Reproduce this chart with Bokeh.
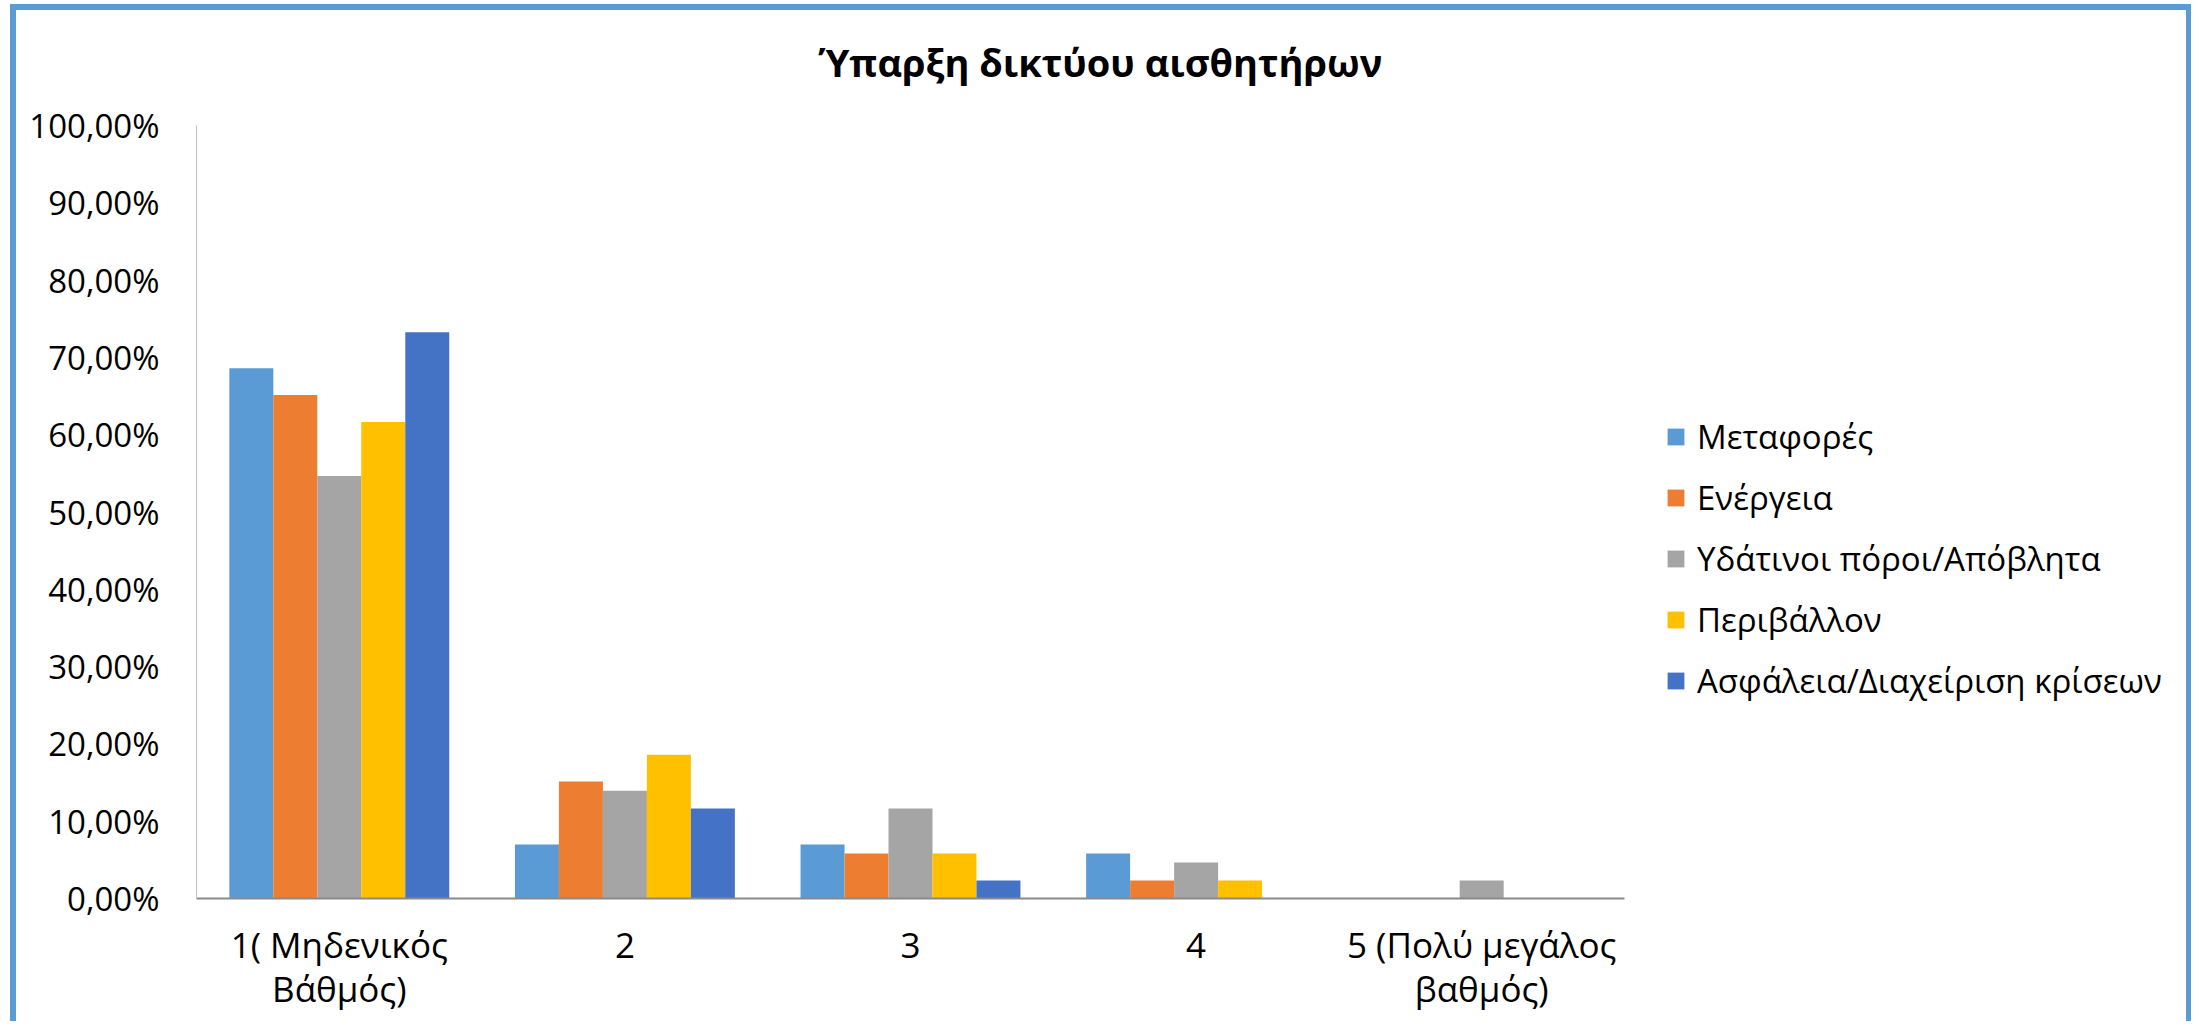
from bokeh.plotting import figure
from bokeh.models import FactorRange, FixedTicker, Legend, LegendItem
from bokeh.layouts import column
from bokeh.transform import dodge
from bokeh.embed import file_html
from bokeh.resources import INLINE

title_text = "Ύπαρξη δικτύου αισθητήρων"
categories = ["1( Μηδενικός\nΒάθμός)", "2", "3", "4", "5 (Πολύ μεγάλος\nβαθμός)"]
series_names = ["Μεταφορές", "Ενέργεια", "Υδάτινοι πόροι/Απόβλητα", "Περιβάλλον",
                "Ασφάλεια/Διαχείριση κρίσεων"]
metafores = [68.60, 6.98, 6.98, 5.81, 0.0]
energeia = [65.12, 15.12, 5.81, 2.33, 0.0]
ydatinoi = [54.65, 13.95, 11.63, 4.65, 2.33]
perivallon = [61.63, 18.60, 5.81, 2.33, 0.0]
asfaleia = [73.26, 11.63, 2.33, 0.0, 0.0]
y_ticks = [0, 10, 20, 30, 40, 50, 60, 70, 80, 90, 100]
y_tick_labels = ["0,00%", "10,00%", "20,00%", "30,00%", "40,00%", "50,00%",
                 "60,00%", "70,00%", "80,00%", "90,00%", "100,00%"]

colors = ["#5B9BD5", "#ED7D31", "#A5A5A5", "#FFC000", "#4472C4"]
FONT = "Open Sans"

data = dict(cat=categories, s0=metafores, s1=energeia, s2=ydatinoi, s3=perivallon, s4=asfaleia)

p = figure(x_range=FactorRange(*categories), y_range=(0, 100),
           width=2584, height=1028, sizing_mode="fixed",
           output_backend="svg", toolbar_location=None,
           min_border_left=180, min_border_right=0, min_border_top=124, min_border_bottom=129)
p.styles = {"margin-top": "-11px"}

bw = 0.154
items = []
for i, name in enumerate(series_names):
    r = p.vbar(x=dodge("cat", (i - 2) * bw, range=p.x_range), top="s%d" % i, width=bw,
               source=data, fill_color=colors[i], line_color=None)
    items.append(LegendItem(label=name, renderers=[r]))

legend = Legend(items=items, location=(41, 195), background_fill_alpha=0,
                border_line_color=None, padding=0, margin=0, spacing=16,
                glyph_width=21, glyph_height=21, label_height=21, label_standoff=11,
                label_text_font=FONT, label_text_font_size="33px", label_text_color="#000000")
p.add_layout(legend, "right")

p.title.text = title_text
p.title.align = "left"
p.title.offset = 622
p.title.vertical_align = "top"
p.title.standoff = 72
p.title.text_font = FONT
p.title.text_font_size = "38px"
p.title.text_font_style = "bold"
p.title.text_color = "#000000"

p.xgrid.visible = False
p.ygrid.visible = False
p.outline_line_color = None

p.yaxis.ticker = FixedTicker(ticks=y_ticks)
p.yaxis.major_label_overrides = {t: l for t, l in zip(y_ticks, y_tick_labels)}
p.yaxis.major_tick_line_color = None
p.yaxis.minor_tick_line_color = None
p.yaxis.major_tick_out = 0
p.yaxis.major_label_standoff = 37
p.yaxis.axis_line_color = "#BFBFBF"
p.yaxis.axis_line_width = 1
p.yaxis.major_label_text_font = FONT
p.yaxis.major_label_text_font_size = "33px"
p.yaxis.major_label_text_color = "#000000"

p.xaxis.major_tick_line_color = None
p.xaxis.major_tick_out = 0
p.xaxis.axis_line_color = "#8A8A8A"
p.xaxis.axis_line_width = 2
p.xaxis.major_label_standoff = 22
p.xaxis.major_label_text_font = FONT
p.xaxis.major_label_text_font_size = "35px"
p.xaxis.major_label_text_color = "#000000"
p.xaxis.major_label_text_line_height = 0.95

root = column(p, width=2181, height=1017, sizing_mode="fixed",
              styles={"box-sizing": "border-box", "margin-left": "10px", "margin-top": "4px",
                      "border-left": "6px solid #5B9BD5", "border-top": "6px solid #5B9BD5",
                      "border-right": "5px solid #5B9BD5", "overflow": "hidden",
                      "background-color": "white"})

open("out.html", "w").write(file_html(root, INLINE))
